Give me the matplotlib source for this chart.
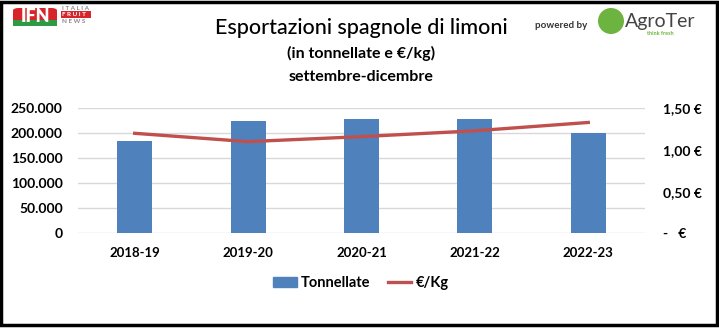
import numpy as np
import matplotlib.pyplot as plt
from matplotlib.patches import Rectangle, FancyBboxPatch, Ellipse, Patch
from matplotlib.lines import Line2D

seasons = ["2018-19", "2019-20", "2020-21", "2021-22", "2022-23"]
tonnes = [185000, 225000, 229000, 229000, 200000]
price = [1.20, 1.10, 1.16, 1.23, 1.33]

left_ticks = [0, 50000, 100000, 150000, 200000, 250000]
left_labels = ["0", "50.000", "100.000", "150.000", "200.000", "250.000"]
right_ticks = [0, 0.5, 1.0, 1.5]
right_labels = ["-   €", "0,50 €", "1,00 €", "1,50 €"]

BAR = "#4f81bd"
LINE = "#c0504d"
GRID = "#d9d9d9"
FONT = ["Lato", "DejaVu Sans"]

plt.rcParams["font.family"] = FONT

fig = plt.figure(figsize=(7.19, 3.29), dpi=100)
W, H = 719, 329

def fx(px):
    return px / W

def fy(py):
    return 1 - py / H

ax = fig.add_axes([fx(78), fy(233.3), fx(645) - fx(78), fy(108.3) - fy(233.3)])
x = np.arange(len(seasons))
ax.bar(x, tonnes, width=0.31, color=BAR, zorder=2)
ax.set_xlim(-0.5, len(seasons) - 0.5)
ax.set_ylim(0, 250000)
ax.set_yticks(left_ticks)
ax.set_yticklabels(left_labels, fontsize=10, fontweight="bold")
ax.set_xticks(x)
ax.set_xticklabels(seasons, fontsize=9.5, fontweight="bold")
ax.tick_params(axis="both", length=0)
ax.tick_params(axis="y", pad=11)
ax.tick_params(axis="x", pad=10)
ax.grid(axis="y", color=GRID, linewidth=1, zorder=0)
for sp in ax.spines.values():
    sp.set_visible(False)

ax2 = ax.twinx()
ax2.plot(x, price, color=LINE, linewidth=2.4, zorder=3)
ax2.set_ylim(0, 1.5)
ax2.set_yticks(right_ticks)
ax2.set_yticklabels(right_labels, fontsize=10, fontweight="bold")
ax2.tick_params(axis="y", length=0, pad=13)
for sp in ax2.spines.values():
    sp.set_visible(False)

# titles
fig.text(fx(361), fy(28), "Esportazioni spagnole di limoni", ha="center", va="center",
         fontsize=15.5, fontweight="medium")
fig.text(fx(361), fy(53), "(in tonnellate e €/kg)", ha="center", va="center",
         fontsize=11.5, fontweight="bold")
fig.text(fx(361), fy(77), "settembre-dicembre", ha="center", va="center",
         fontsize=11.5, fontweight="bold")

# legend
handles = [Patch(color=BAR, label="Tonnellate"),
           Line2D([0], [0], color=LINE, linewidth=2.4, label="€/Kg")]
fig.legend(handles=handles, loc="center", bbox_to_anchor=(fx(361), fy(283)), ncol=2,
           frameon=False, prop={"size": 10.5, "weight": "bold"},
           handlelength=1.6, handletextpad=0.3, columnspacing=1.2)

# IFN logo
fig.patches.append(FancyBboxPatch((fx(13), fy(26)), fx(44), fy(8) - fy(26),
                                  boxstyle="round,pad=0,rounding_size=0.008",
                                  transform=fig.transFigure, facecolor="#d6262c",
                                  edgecolor="none"))
fig.patches.append(Rectangle((fx(13), fy(26)), fx(44), fy(20) - fy(26),
                             transform=fig.transFigure, facecolor="#2e9a44", edgecolor="none"))
fig.text(fx(35), fy(17), "IFN", ha="center", va="center", color="white",
         fontsize=13, fontweight="heavy")
fig.text(fx(62), fy(8.5), "I T A L I A", ha="left", va="center", color="#888888",
         fontsize=4.6, fontweight="bold")
fig.patches.append(Rectangle((fx(61), fy(18)), fx(30), fy(11) - fy(18),
                             transform=fig.transFigure, facecolor="#d6262c", edgecolor="none"))
fig.text(fx(62), fy(14.5), "F R U I T", ha="left", va="center", color="white",
         fontsize=4.6, fontweight="bold")
fig.text(fx(62), fy(21.5), "N E W S", ha="left", va="center", color="#888888",
         fontsize=4.6, fontweight="bold")

# AgroTer logo
fig.text(fx(535), fy(25), "powered by", ha="left", va="center", fontsize=7,
         fontweight="bold", color="#333333")
fig.patches.append(Ellipse((fx(611), fy(21)), fx(26), 26 / H, transform=fig.transFigure,
                           facecolor="#6cb33f", edgecolor="none"))
fig.text(fx(625), fy(22), "AgroTer", ha="left", va="center", fontsize=14, color="#444444")
fig.text(fx(647), fy(33.5), "think fresh", ha="left", va="center", fontsize=4,
         color="#6cb33f", fontweight="bold")

# black frame
fig.patches.append(Rectangle((fx(1), fy(325)), fx(715.5), fy(1.5) - fy(325),
                             transform=fig.transFigure, facecolor="none",
                             edgecolor="black", linewidth=2.5))

fig.savefig("out.png", dpi=100, facecolor="white")
